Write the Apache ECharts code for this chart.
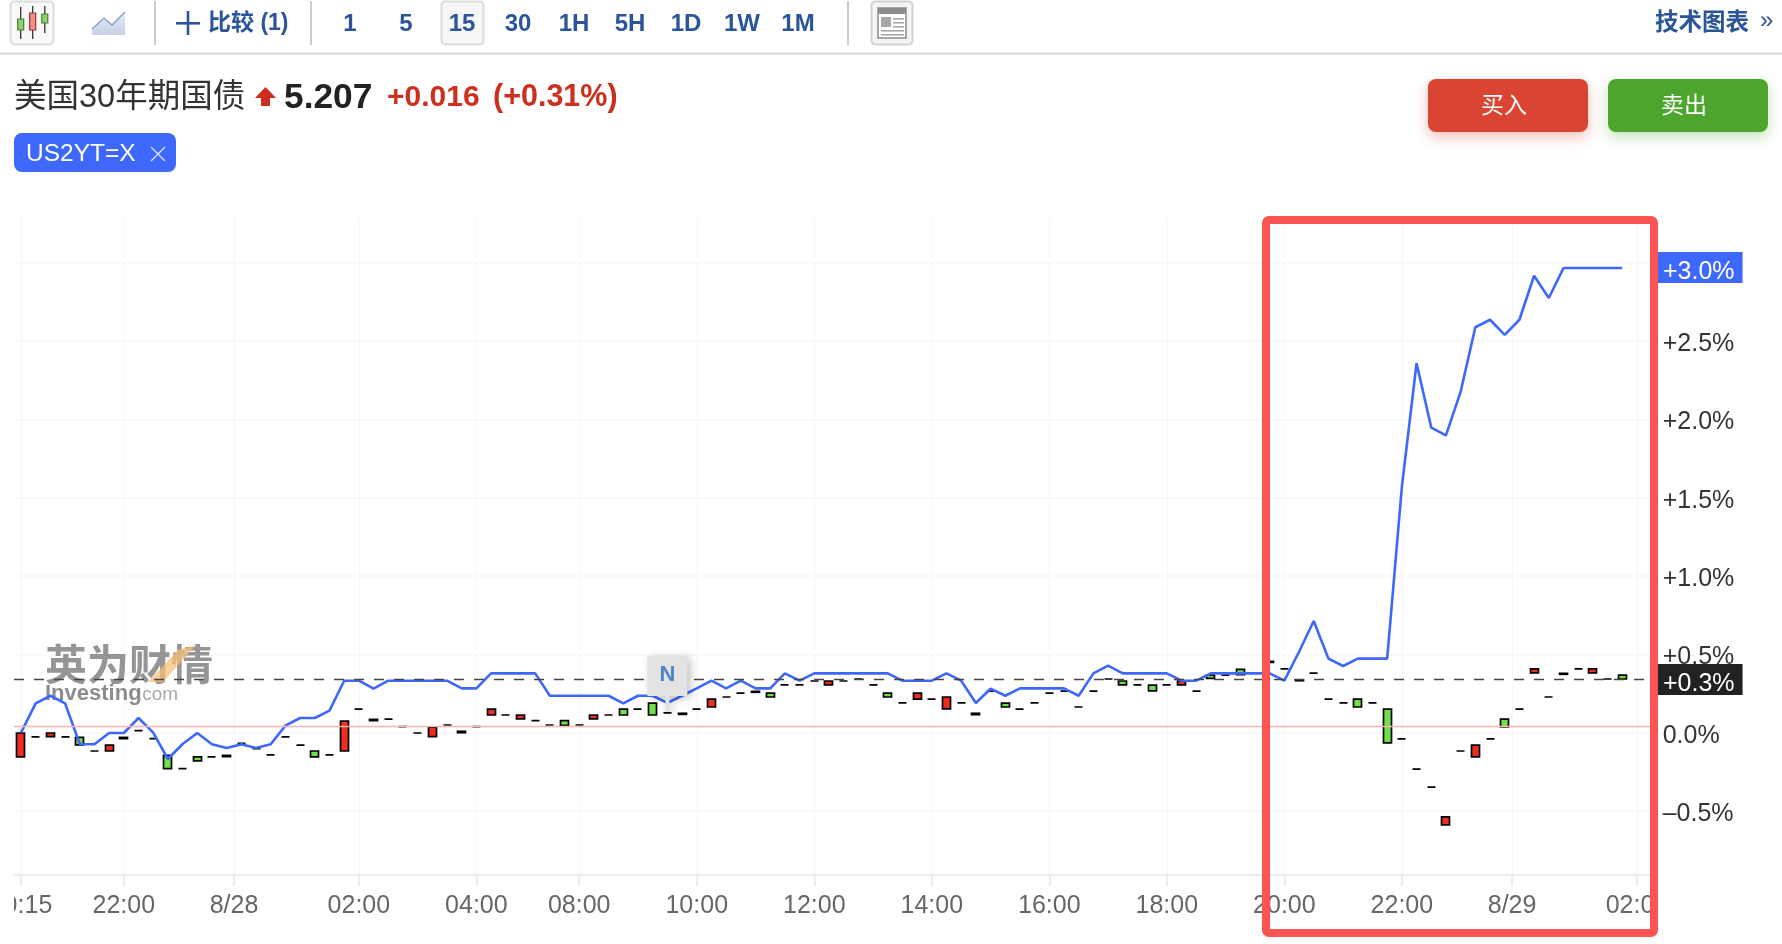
<!DOCTYPE html>
<html><head><meta charset="utf-8">
<style>html,body{margin:0;padding:0;background:#fff}#c{width:1782px;height:944px}</style>
<script src="https://cdn.jsdelivr.net/npm/echarts@6/dist/echarts.min.js"></script>
</head><body><div id="c"></div>
<script>
const usLine = [0,.187,.236,.187,-.072,-.074,-.002,-.002,.094,0,-.168,-.072,-.002,-.074,-.098,-.074,-.098,-.074,.045,.094,
.094,.141,.332,.332,.281,.332,.332,.332,.332,.332,.283,.283,.379,.379,.379,.379,.236,.236,.236,.236,
.236,.187,.236,.236,.190,.236,.283,.332,.283,.332,.283,.283,.379,.332,.379,.379,.379,.379,.379,.379,
.332,.332,.332,.379,.332,.190,.281,.236,.283,.283,.283,.283,.236,.379,.428,.379,.379,.379,.379,.332,
.332,.379,.379,.379,.379,.379,.332,.517,.713,.473,.426,.473,.473,.473,1.571,2.359,1.948,1.899,2.178,2.589,
2.637,2.540,2.637,2.918,2.776,2.967,2.967,2.967,2.967,2.967];
const candleOpen = [-.155,-.027,-.025,-.027,-.030,-.117,-.117,-.038,.013,-.038,-.145,-.230,-.155,-.155,-.153,-.068,-.102,-.142,-.027,-.079,
-.117,-.142,-.117,.151,.077,.087,.039,-.002,-.025,.049,0,.039,.113,.113,.088,.077,.049,.077,.049,.088,
.113,.151,.151,.189,.126,.117,.151,.164,.228,.253,.258,.253,.305,.305,.330,.305,.330,.343,.305,.253,
.190,.215,.215,.152,.190,.115,.266,.189,.151,.190,.253,.266,.164,.266,.343,.330,.305,.304,.305,.305,
.266,.368,.368,.404,.381,.449,.407,.332,.381,.215,.190,.215,.190,.151,-.040,-.232,-.347,-.589,-.117,-.155,
-.040,.087,.151,.382,.228,.373,.407,.382,.343,.368];
const candleClose = [-.002,-.027,-.002,-.027,-.078,-.117,-.079,-.030,.013,-.038,-.229,-.230,-.180,-.155,-.145,-.068,-.102,-.142,-.027,-.079,
-.155,-.142,.074,.151,.085,.087,.039,-.002,.036,.049,.009,.039,.151,.113,.113,.077,.049,.047,.049,.113,
.113,.113,.151,.113,.126,.124,.151,.215,.228,.253,.264,.228,.305,.305,.330,.330,.330,.343,.305,.228,
.190,.253,.215,.228,.190,.124,.266,.164,.151,.190,.253,.266,.164,.266,.343,.305,.305,.267,.305,.330,
.266,.347,.368,.371,.381,.456,.407,.337,.381,.215,.190,.164,.190,-.065,-.040,-.232,-.347,-.538,-.117,-.079,
-.040,.037,.151,.407,.228,.379,.407,.407,.343,.343];
const tickSlots = [0,7,14.5,23,31,38,46,54,62,70,78,86,94,101.5,110];
const tickLabels = ['20:15','22:00','8/28','02:00','04:00','08:00','10:00','12:00','14:00','16:00','18:00','20:00','22:00','8/29','02:00'];
const yTicks = [-0.5,0,0.5,1,1.5,2,2.5,3];
const prevCloseLevel = 0.035;
const lastCandleLevel = 0.343;
const lastLineLevel = usLine[usLine.length-1];
const newsSlot = 44, newsLevel = 0.132;

const SANS = '"Liberation Sans","Noto Sans CJK SC",sans-serif';
const CJK = '"Liberation Sans","Noto Sans CJK SC",sans-serif';
const NAVY = '#2a5599';
function T(text,x,y,size,color,weight,align,extra){
  return Object.assign({type:'text',x:x,y:y,z:20,silent:true,style:{text:text,fontSize:size,fontFamily:CJK,fontWeight:weight||'normal',fill:color,textAlign:align||'center',textVerticalAlign:'middle'}},extra||{});
}
function R(x,y,w,h,fill,r,stroke,lw,extra){
  return Object.assign({type:'rect',z:20,silent:true,shape:{x:x,y:y,width:w,height:h,r:r||0},style:{fill:fill,stroke:stroke||null,lineWidth:lw||0}},extra||{});
}
function P(pts,style,closed){
  return {type:closed?'polygon':'polyline',z:20,silent:true,shape:{points:pts},style:style};
}
const g = [];
// toolbar
g.push(R(10.5,1.5,43,43,'#f8f8f8',4,'#dcdcdc',2));
[[20.7,7,39,19,30,'#8fd070','#4d7f2f'],[32.7,6,39,13,30,'#f0908a','#a03028'],[44.8,6,33,14,23,'#8fd070','#4d7f2f']].forEach(c=>{
  g.push(P([[c[0],c[1]],[c[0],c[2]]],{stroke:'#333',lineWidth:1.3}));
  g.push(R(c[0]-3,c[3],6,c[4]-c[3],c[5],0,c[6],1.2));
});
g.push(P([[92,29],[104,18],[112,25],[125,12],[125,35],[92,35]],{fill:new echarts.graphic.LinearGradient(0,0,0,1,[{offset:0,color:'#e6ecf6'},{offset:1,color:'#c5d1e6'}])},true));
g.push(P([[92,29],[104,18],[112,25],[125,12]],{stroke:'#7f9cc6',lineWidth:1.3,fill:null}));
[155,311,848].forEach(x=>g.push(R(x-1,1,2,44,'#cccccc')));
g.push(R(176,22,24,2.6,NAVY));g.push(R(186.7,11,2.6,24,NAVY));
g.push(T('比较 (1)',208,24,23,NAVY,'bold','left'));
g.push(R(441.5,1.5,42,43,'#f6f6f6',4,'#dcdcdc',2));
[['1',350],['5',406],['15',462],['30',518],['1H',574],['5H',630],['1D',686],['1W',742],['1M',798]].forEach(a=>g.push(T(a[0],a[1],24,24,NAVY,'bold')));
g.push(R(871.5,1.5,41,43,'#f4f4f4',4,'#d2d2d2',2));
g.push(R(878,8,28,30,'#ffffff',0,'#8c8c8c',1.5));
g.push(R(878,8,28,6,'#8c8c8c'));
g.push(R(881,17,10,10,'#a8a8a8'));
[[893,18,11],[893,22,11],[893,26,11],[881,30,23],[881,34,23]].forEach(a=>g.push(R(a[0],a[1],a[2],1.6,'#a8a8a8')));
g.push(T('技术图表',1655,24,23.5,NAVY,'bold','left'));
g.push(T('»',1760,21,24,NAVY,'normal','left'));
g.push(R(0,52.5,1782,2,'#d8d8d8'));
// title row
g.push(T('美国30年期国债',14,98,32.5,'#333333','normal','left'));
g.push(P([[265.5,87],[276,98],[270,98],[270,106],[261,106],[261,98],[255,98]],{fill:'#cc2f1e'},true));
g.push(T('5.207',284,98,35.3,'#222222','bold','left'));
g.push(T('+0.016',387,98,30,'#cc2f1e','bold','left'));
g.push(T('(+0.31%)',493,98,30.5,'#cc2f1e','bold','left'));
// tag
g.push(R(14,133,162,39,'#3d68fb',8));
g.push(T('US2YT=X',26,154,24.5,'#ffffff','normal','left'));
g.push(P([[151,147],[165,161]],{stroke:'#dfe6ff',lineWidth:1.3}));
g.push(P([[165,147],[151,161]],{stroke:'#dfe6ff',lineWidth:1.3}));
// buttons
g.push(R(1428,79,160,53,'#d94532',8,null,0,{style:{fill:'#d94532',shadowBlur:14,shadowColor:'rgba(217,69,50,.35)',shadowOffsetY:5}}));
g.push(R(1608,79,160,53,'#4da52d',8,null,0,{style:{fill:'#4da52d',shadowBlur:14,shadowColor:'rgba(77,165,45,.35)',shadowOffsetY:5}}));
g.push(T('买入',1504,107,23,'#ffffff'));
g.push(T('卖出',1684,107,23,'#ffffff'));
// watermark
const wm = {z:1};
g.push(Object.assign(T('英为财情',45,668,42,'#878787','bold','left',wm),{style:{text:'英为财情',fontSize:42,fontFamily:CJK,fontWeight:'bold',fill:'rgba(130,130,130,.85)',textAlign:'left',textVerticalAlign:'middle',shadowBlur:4,shadowColor:'rgba(110,110,110,.9)'}}));
g.push({type:'polygon',z:1,silent:true,shape:{points:[[148,682],[163,682],[196,645],[178,650]]},style:{fill:'rgba(245,190,120,.75)'}});
g.push(Object.assign(T('Investing',45,694,22,'#777777','bold','left',wm),{style:{text:'Investing',fontSize:22,fontFamily:CJK,fontWeight:'bold',fill:'rgba(120,120,120,.85)',textAlign:'left',textVerticalAlign:'middle',shadowBlur:3,shadowColor:'rgba(110,110,110,.8)'}}));
g.push(Object.assign(T('.com',137,695,19,'#aaaaaa','normal','left',wm),{style:{text:'.com',fontSize:19,fontFamily:CJK,fill:'rgba(160,160,160,.9)',textAlign:'left',textVerticalAlign:'middle',shadowBlur:2,shadowColor:'rgba(160,160,160,.6)'}}));
// clipping of the outermost time labels
g.push(R(0,885,14,45,'#ffffff',0,null,0,{z:30}));
g.push(R(1658,885,30,45,'#ffffff',0,null,0,{z:30}));
// highlight box
g.push({type:'rect',z:40,silent:true,shape:{x:1266,y:220,width:388,height:713,r:3},style:{fill:null,stroke:'#fc5353',lineWidth:8}});

const labelMap = {}; tickSlots.forEach((s,i)=>labelMap[s]=tickLabels[i]);
const fmtY = v => '{a|' + (v===0 ? '0.0%' : (v>0 ? '+' : '–') + Math.abs(v).toFixed(1) + '%') + '}';
const flag = (bg,txt)=>({show:true,position:'end',distance:8,formatter:'{a|'+txt+'}',backgroundColor:bg,padding:[3.5,8,3.5,5],
  rich:{a:{color:'#fff',fontSize:25,fontFamily:SANS,lineHeight:24,padding:[9,0,0,0]}}});

const chart = echarts.init(document.getElementById('c'));
chart.setOption({
  animation:false,
  backgroundColor:'#ffffff',
  grid:{left:14,right:132,top:218,bottom:69,containLabel:false,outerBoundsMode:'none'},
  xAxis:{type:'value',min:-0.4765,max:110.89,
    axisLine:{onZero:false,lineStyle:{color:'#e3e6ec',width:1.5}},
    axisTick:{show:true,length:11,customValues:tickSlots,lineStyle:{color:'#e3e6ec',width:1.5}},
    splitLine:{show:true,lineStyle:{color:'#f4f6f9',width:1.3}},
    axisLabel:{customValues:tickSlots,margin:17,fontSize:25,fontFamily:SANS,color:'#666666',lineHeight:28,hideOverlap:false,formatter:v=>labelMap[v]}
  },
  yAxis:{type:'value',position:'right',min:-0.9087,max:3.2867,scale:false,
    axisLine:{show:false},
    axisTick:{show:false,customValues:yTicks},
    splitLine:{show:true,lineStyle:{color:'#f7f7f7',width:1.5}},
    axisLabel:{customValues:yTicks,margin:12.7,formatter:fmtY,rich:{a:{fontSize:25,fontFamily:SANS,color:'#333333',padding:[6,0,0,0]}}}
  },
  series:[
    {type:'candlestick',z:3,barWidth:8.5,encode:{x:0,y:[1,2,3,4]},
      itemStyle:{color:'#ee2c1f',color0:'#70e048',borderColor:'#000',borderColor0:'#000',borderColorDoji:'#000',borderWidth:1.7},
      data:candleOpen.map((o,i)=>[i,o,candleClose[i],Math.min(o,candleClose[i]),Math.max(o,candleClose[i])])},
    {type:'line',z:4,symbol:'none',showSymbol:false,lineStyle:{color:'#3d68fb',width:2.6},
      data:usLine.map((v,i)=>[i,v]),
      markLine:{silent:true,symbol:'none',animation:false,
        data:[
          {yAxis:prevCloseLevel,lineStyle:{color:'#f9b4b4',width:1.4,type:'solid'},label:{show:false}},
          {yAxis:lastCandleLevel,lineStyle:{color:'#444444',width:1.3,type:[10,10]},label:flag('#222222','+0.3%')},
          {yAxis:lastLineLevel,lineStyle:{color:'transparent',width:1},label:flag('#3d68fb','+3.0%')}
        ]},
      markPoint:{silent:true,animation:false,
        data:[{coord:[newsSlot,newsLevel],value:'N',symbol:'path://M0 0H40V40H22V56H18V40H0Z',symbolSize:[40,56],symbolKeepAspect:false,symbolOffset:[0,-28],
          itemStyle:{color:'#e3e3e3',shadowBlur:8,shadowColor:'rgba(0,0,0,.25)',shadowOffsetX:3,shadowOffsetY:2},
          label:{show:true,position:'inside',offset:[0,-9],formatter:'N',color:'#4a86c8',fontSize:22,fontWeight:'bold',fontFamily:SANS}}]}
    }
  ],
  graphic:{elements:g}
});
</script></body></html>
